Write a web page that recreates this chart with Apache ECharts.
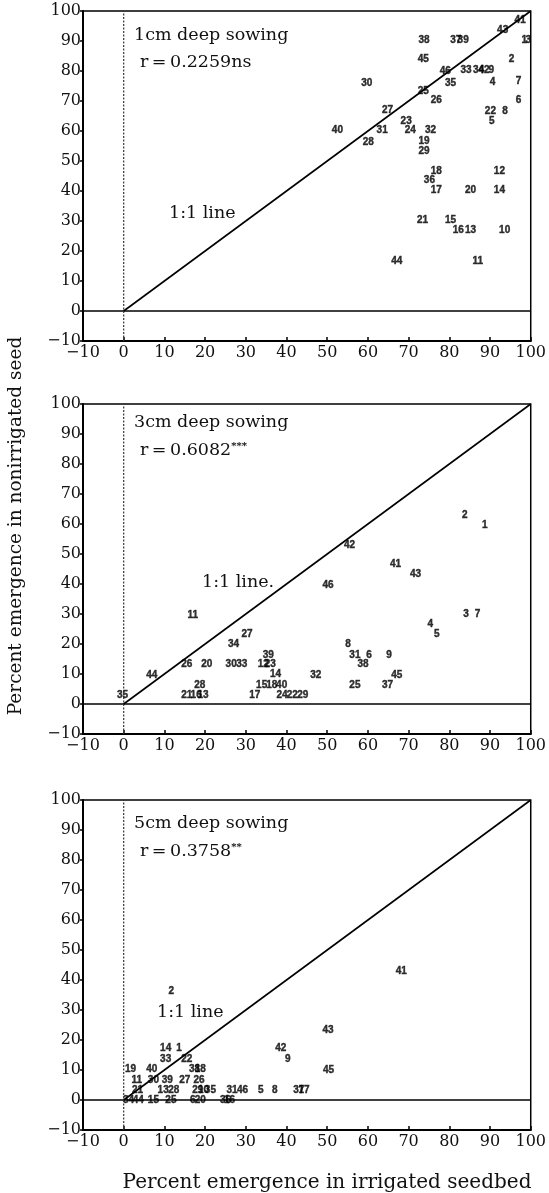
<!DOCTYPE html>
<html><head><meta charset="utf-8">
<script src="https://cdn.jsdelivr.net/npm/echarts@6/dist/echarts.min.js"></script>
<style>html,body{margin:0;padding:0;background:#fff}#c{width:549px;height:1193px}</style>
</head><body><div id="c"></div>
<script>
// Panel 1: 1cm deep sowing
const p1Ids = ['41','43','1','3','38','37','39','45','2','46','33','34','42','9','30','35','4','7','25','26','6','27','22','8','5','23','40','31','24','32','28','19','29','18','12','36','17','20','14','21','15','16','13','10','44','11'];
const p1X = [97.4,93.1,98.4,99.4,73.8,81.6,83.4,73.6,95.3,79.0,84.1,87.2,88.5,90.3,59.7,80.3,90.6,97.0,73.6,76.8,97.0,64.8,90.1,93.7,90.4,69.4,52.5,63.5,70.4,75.4,60.1,73.8,73.8,76.8,92.3,75.1,76.8,85.2,92.3,73.4,80.3,82.2,85.2,93.6,67.1,87.0];
const p1Y = [96.9,93.5,90.2,90.2,90.2,90.2,90.2,83.8,83.8,79.9,80.2,80.2,80.2,80.2,76.0,76.0,76.3,76.6,73.2,70.1,70.1,66.8,66.6,66.6,63.4,63.4,60.4,60.4,60.1,60.1,56.3,56.5,53.2,46.7,46.7,43.5,40.2,40.2,40.2,30.1,30.1,26.8,26.8,26.8,16.7,16.7];
// Panel 2: 3cm deep sowing
const p2Ids = ['2','1','42','41','43','46','11','3','7','4','5','27','34','8','39','31','6','9','26','20','30','33','12','23','38','14','44','32','45','28','15','18','40','25','37','35','21','16','13','17','24','22','29'];
const p2X = [83.8,88.7,55.5,66.8,71.7,50.2,17.0,84.1,86.9,75.3,76.9,30.3,27.0,55.1,35.5,56.8,60.3,65.2,15.5,20.4,26.4,29.0,34.3,36.0,58.8,37.3,6.9,47.2,67.1,18.7,33.9,36.4,38.8,56.8,64.8,-0.3,15.5,17.8,19.5,32.2,38.9,41.4,44.0];
const p2Y = [63.0,59.7,53.0,46.5,43.1,39.6,29.6,29.8,29.8,26.6,23.1,23.1,19.8,19.8,16.4,16.2,16.2,16.2,13.1,13.1,13.1,13.1,13.1,13.1,13.1,9.8,9.7,9.7,9.7,6.4,6.4,6.4,6.4,6.4,6.4,3.0,3.0,3.0,3.0,3.0,3.0,3.0,3.0];
// Panel 3: 5cm deep sowing
const p3Ids = ['2','41','43','14','1','33','22','42','9','45','19','40','38','18','11','30','39','27','26','21','13','28','29','10','35','31','46','5','8','37','17','34','44','15','25','6','20','36','16'];
const p3X = [11.7,68.2,50.2,10.3,13.6,10.3,15.5,38.6,40.3,50.3,1.7,6.9,17.4,18.8,3.2,7.3,10.7,15.0,18.5,3.4,9.7,12.3,18.2,19.6,21.3,26.6,29.2,33.7,37.1,43.0,44.3,1.2,3.6,7.3,11.6,17.0,18.8,25.0,26.0];
const p3Y = [36.4,42.8,23.1,17.1,17.1,13.7,13.7,17.1,13.7,9.9,10.2,10.2,10.2,10.2,6.7,6.7,6.7,6.7,6.7,3.1,3.1,3.1,3.1,3.1,3.1,3.1,3.1,3.1,3.1,3.1,3.1,0,0,0,0,0,0,0,0];

const panelTitles = ['1cm deep sowing','3cm deep sowing','5cm deep sowing'];
const panelR = ['0.2259','0.6082','0.3758'];
const panelSig = ['ns','***','**'];
const oneToOne = [0, 100];

const tops = [11, 404, 800];
const gridH = 330;
const serif = '"DejaVu Serif","Liberation Serif",serif';

const chart = echarts.init(document.getElementById('c'), null, {renderer:'canvas'});
const grids = [], xAxes = [], yAxes = [], series = [], graphics = [];
const panels = [[p1Ids,p1X,p1Y],[p2Ids,p2X,p2Y],[p3Ids,p3X,p3Y]];
const titleY = [[37,64],[424,452],[825,853]];
const lineLbl = [[169,215],[202,584],[157,1014]];
const fmt = v => (v < 0 ? '\u2212' + Math.abs(v) : String(v));
panels.forEach((p, i) => {
  grids.push({left:83, width:450, top:tops[i], height:gridH, show:true, borderColor:'#000', borderWidth:1.5, backgroundColor:'transparent'});
  xAxes.push({gridIndex:i, type:'value', min:-10, max:100, interval:10,
    axisLine:{onZero:false, lineStyle:{color:'#000', width:2}}, axisTick:{inside:true, length:4, lineStyle:{color:'#000', width:1.5}},
    axisLabel:{color:'#111', fontFamily:serif, fontSize:16, margin:4, formatter:fmt}, splitLine:{show:false}});
  yAxes.push({gridIndex:i, type:'value', min:-10, max:100, interval:10,
    axisLine:{onZero:false, lineStyle:{color:'#000', width:2}}, axisTick:{inside:false, length:3, lineStyle:{color:'#000', width:1.5}},
    axisLabel:{color:'#111', fontFamily:serif, fontSize:16, margin:2, formatter:fmt}, splitLine:{show:false}});
  series.push({type:'line', xAxisIndex:i, yAxisIndex:i, data:[[-10,0],[100,0]], symbol:'none', silent:true,
    lineStyle:{color:'#000', width:1.5}});
  series.push({type:'line', xAxisIndex:i, yAxisIndex:i, data:[[0,-10],[0,100]], symbol:'none', silent:true,
    lineStyle:{color:'#333', width:1.2, type:[2,1.5]}});
  series.push({type:'line', xAxisIndex:i, yAxisIndex:i, data:[[oneToOne[0],oneToOne[0]],[oneToOne[1],oneToOne[1]]], symbol:'none', silent:true,
    lineStyle:{color:'#000', width:1.6}});
  series.push({type:'scatter', xAxisIndex:i, yAxisIndex:i, symbolSize:1, itemStyle:{color:'rgba(0,0,0,0)'},
    data:p[0].map((id, k) => ({name:id, value:[p[1][k], p[2][k]]})),
    label:{show:true, position:'inside', formatter:'{b}', color:'#000', fontFamily:'"Liberation Sans",Arial,sans-serif', fontWeight:'bold', fontSize:10, textBorderColor:'#000', textBorderWidth:0.4}});
  graphics.push({type:'text', left:134, top:titleY[i][0]-11, style:{text:panelTitles[i], font:'17.5px '+serif, fill:'#111'}});
  graphics.push({type:'text', left:140, top:titleY[i][1]-11, style:{
    text:'{a|r\u2009=\u2009' + panelR[i] + '}' + (panelSig[i]==='ns' ? '{a|ns}' : '{s|' + panelSig[i] + '}'),
    rich:{a:{font:'17.5px '+serif, fill:'#111', color:'#111'}, s:{font:'bold 10px '+serif, color:'#111', verticalAlign:'top', padding:[0,0,8,0]}}}});
  graphics.push({type:'text', left:lineLbl[i][0], top:lineLbl[i][1]-11, style:{text: i===1 ? '1:1 line.' : '1:1 line', font:'17.5px '+serif, fill:'#111'}});
});
graphics.push({type:'text', x:16, y:526, rotation:Math.PI/2, style:{text:'Percent emergence in nonirrigated seed', font:'18.5px '+serif, fill:'#111', textAlign:'center', textVerticalAlign:'middle'}});
graphics.push({type:'text', x:327, y:1183, style:{text:'Percent emergence in irrigated seedbed', font:'20px '+serif, fill:'#111', textAlign:'center', textVerticalAlign:'middle'}});

chart.setOption({animation:false, backgroundColor:'#fff', grid:grids, xAxis:xAxes, yAxis:yAxes, series:series, graphic:graphics});
</script></body></html>
